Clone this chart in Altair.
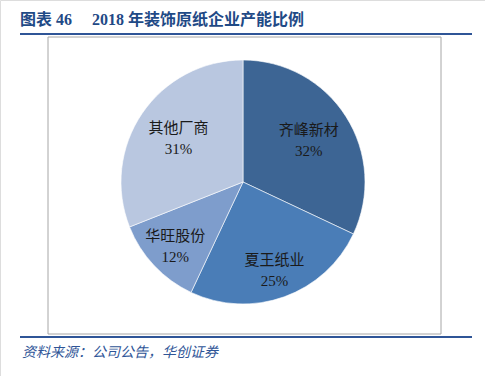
import altair as alt
import pandas as pd

companies = ["齐峰新材", "夏王纸业", "华旺股份", "其他厂商"]
shares = [32, 25, 12, 31]
colors = ["#3D6594", "#4A7DB7", "#7E9DCC", "#B9C7E0"]
title_num = "图表 46"
title_text = "2018 年装饰原纸企业产能比例"
source_text = "资料来源：公司公告，华创证券"

df = pd.DataFrame({"company": companies, "share": shares, "order": list(range(len(companies)))})
df["pct"] = df["share"].astype(str) + "%"

CX, CY, R = 243, 182, 122

pie = alt.Chart(df).mark_arc(outerRadius=R, stroke="white", strokeWidth=0.6).encode(
    theta=alt.Theta("share:Q", stack=True, scale=alt.Scale(range=[0, 6.283185307])),
    order=alt.Order("order:Q"),
    x=alt.value(CX), y=alt.value(CY),
    color=alt.Color("company:N", scale=alt.Scale(domain=companies, range=colors), legend=None),
)

lab = alt.Chart(df).transform_joinaggregate(
    total="sum(share)"
).transform_window(
    cum="sum(share)", sort=[alt.SortField("order")]
).transform_calculate(
    mid="(datum.cum - datum.share / 2) / datum.total * 2 * PI",
    lr="(datum.order == 1 || datum.order == 2) ? 93 : 78",
)

names = lab.mark_text(fontSize=15, font="Noto Sans CJK SC", color="#1a1a1a", dy=-10).encode(
    x=alt.value(CX), y=alt.value(CY),
    theta=alt.Theta("mid:Q", scale=None),
    radius=alt.Radius("lr:Q", scale=None), text="company:N",
)
pcts = lab.mark_text(fontSize=15, font="Liberation Serif", color="#1a1a1a", dy=11).encode(
    x=alt.value(CX), y=alt.value(CY),
    theta=alt.Theta("mid:Q", scale=None),
    radius=alt.Radius("lr:Q", scale=None), text="pct:N",
)

one = pd.DataFrame({"a": [0]})

box = alt.Chart(one).mark_rect(fill=None, stroke="#A6A6A6", strokeWidth=1).encode(
    x=alt.value(48), x2=alt.value(441), y=alt.value(37), y2=alt.value(334)
)
top_rule = alt.Chart(one).mark_rule(color="#2F5597", strokeWidth=2).encode(
    x=alt.value(20), x2=alt.value(472), y=alt.value(34)
)
bottom_rule = alt.Chart(one).mark_rule(color="#2F5597", strokeWidth=2).encode(
    x=alt.value(20), x2=alt.value(472), y=alt.value(337)
)
title1 = alt.Chart(one).mark_text(
    text=title_num, fontSize=16, fontWeight="bold", font="Liberation Serif, Noto Sans CJK SC",
    color="#1F4A86", align="left", baseline="alphabetic"
).encode(x=alt.value(20), y=alt.value(25))
title2 = alt.Chart(one).mark_text(
    text=title_text, fontSize=16, fontWeight="bold", font="Liberation Serif, Noto Sans CJK SC",
    color="#1F4A86", align="left", baseline="alphabetic"
).encode(x=alt.value(92), y=alt.value(25))
source = alt.Chart(one).mark_text(
    text=source_text, fontSize=14, fontStyle="italic", font="Noto Sans CJK SC",
    color="#2F5597", align="left", baseline="alphabetic"
).encode(x=alt.value(22), y=alt.value(357))

chart = alt.layer(box, top_rule, bottom_rule, title1, title2, source, pie, names, pcts).properties(
    width=485, height=376, padding=0, autosize=alt.AutoSizeParams(type="none")
).configure_view(stroke=None).configure(background="white")

chart.save("out.html", embed_options={"renderer": "svg", "actions": False})
